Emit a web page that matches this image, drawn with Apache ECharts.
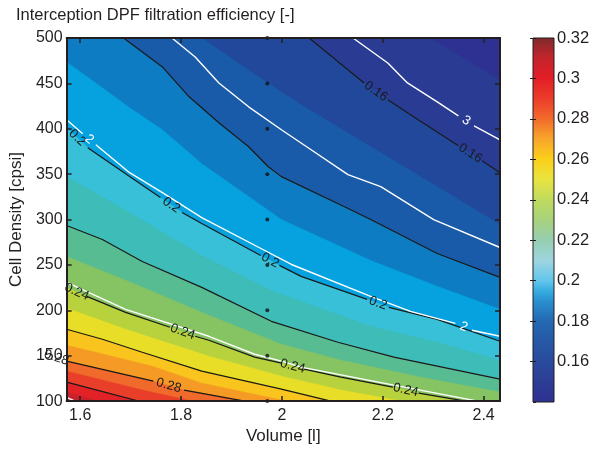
<!DOCTYPE html>
<html><head><meta charset="utf-8">
<script src="https://cdn.jsdelivr.net/npm/echarts@6/dist/echarts.min.js"></script>
<style>html,body{margin:0;padding:0;background:#fff}#c{width:593px;height:450px}</style>
</head><body><div id="c"></div>
<script>
// ---------- data ----------
const chartTitle = 'Interception DPF filtration efficiency [-]';
const xName = 'Volume [l]';
const yName = 'Cell Density [cpsi]';
const xRange = [1.573, 2.4325];
const yRange = [100, 500];
const yTickStep = 50;
const cbarRange = [0.14, 0.32];
const cbarStep = 0.02;

// measured design points
const sampleVolume = [1.971];
const sampleCellDensity = [100, 150, 200, 250, 300, 350, 400, 450, 500];

// iso-efficiency curves [volume, cell density]; null = gap under a contour label
const eff015 = [[2.295,500],[2.4325,453.8]];
const eff016 = [[2.054,500],[2.163,450.5],null,[2.210,431.9],[2.261,413.2],[2.350,381.3],null,[2.397,364.8],[2.4325,351.6]];
const eff017 = [[1.841,500],[1.940,462.6],[2.038,426.4],[2.137,393.4],[2.236,360.4],[2.334,327.5],[2.4325,294.5]];
const eff018 = [[1.686,500],[1.763,468.1],[1.816,435.2],[1.875,406.6],[1.934,380.2],[1.973,358.2],[1.999,347.3],[2.123,314.3],[2.176,300],[2.308,262.6],[2.4325,236.3]];
const eff019 = [[1.573,473.6],[1.644,445.1],[1.698,423.1],[1.763,398.9],[1.841,361.5],[1.999,300],[2.176,255.0],[2.308,226.4],[2.4325,201.1]];
const eff020 = [[1.573,401.1],null,[1.615,379.1],[1.698,347.3],[1.759,324.2],null,[1.802,307.7],[1.841,295.6],[1.958,260.4],null,[1.995,249.5],[2.038,237.4],[2.169,212.1],null,[2.212,203.3],[2.308,190.1],[2.4325,165.9]];
const eff021 = [[1.573,347.3],[1.698,307.7],[1.841,260.4],[1.979,221.9],[2.176,182.4],[2.308,164.8],[2.4325,145.1]];
const eff022 = [[1.573,293.4],[1.644,278.0],[1.723,253.8],[1.841,225.3],[1.979,187.9],[2.111,164.8],[2.222,148.4],[2.308,138.5],[2.4325,124.2]];
const eff023 = [[1.573,259.3],[1.690,233.0],[1.855,194.5],[1.999,162.6],[2.117,145.1],[2.275,126.4],[2.4325,109.9]];
const eff024 = [[1.573,225.3],null,[1.613,215.4],[1.690,197.8],[1.778,181.3],null,[1.828,171.4],[1.855,167.0],[1.946,148.4],[1.999,141.8],null,[2.044,135.2],[2.117,126.4],[2.220,115.4],null,[2.271,108.8],[2.364,100]];
const eff025 = [[1.573,202.2],[1.690,179.1],[1.855,149.5],[1.999,127.5],[2.117,112.1],[2.236,100]];
const eff026 = [[1.573,179.1],[1.644,168.1],[1.723,153.8],[1.841,133.0],[1.999,113.2],[2.097,100]];
const eff027 = [[1.573,161.5],[1.743,138.5],[1.841,119.8],[2.009,100]];
const eff028 = [[1.532,151.7],null,[1.573,144.0],[1.745,122.0],null,[1.806,112.1],[1.926,100]];
const eff029 = [[1.573,133.0],[1.723,112.1],[1.822,100]];
const eff030 = [[1.573,120.9],[1.723,99]];
const eff031 = [[1.573,110],[1.635,100]];

// second quantity (white iso-lines)
const white1 = [[1.573,230.8],[1.690,201.1],[1.855,171.4],[1.946,151.6],[1.999,144.0],[2.038,137.4],[2.222,117.6],[2.368,102.2],[2.389,100]];
const white2 = [[1.573,409.9],[1.605,394.5],null,[1.631,382.4],[1.698,351.6],[1.763,329.7],[1.841,302.2],[1.966,265.9],[2.019,250.5],[2.176,215.4],[2.255,198.9],[2.344,185.7],null,[2.377,178.0],[2.4325,171.4]];
const white25 = [[1.782,500],[1.828,479.1],[1.875,450.5],[1.934,424.2],[1.999,398.9],[2.052,379.1],[2.131,349.5],[2.196,336.3],[2.301,300],[2.4325,269.2]];
const white3 = [[2.141,500],[2.210,472.5],[2.249,450.5],[2.308,429.7],[2.350,414.3],null,[2.381,403.3],[2.4325,387.9]];
const whiteCorner = [[1.573,104],[1.590,100]];

// ---------- styling ----------
const FONT = '"Liberation Sans", Arial, Helvetica, sans-serif';
const INK = '#231f20';
const baseColor = '#2e3192';
const fillBands = [
  {pts: eff015, color: '#2a3b94'},
  {pts: eff016, color: '#22489c'},
  {pts: eff017, color: '#195aa9'},
  {pts: eff018, color: '#0d7cc2'},
  {pts: eff019, color: '#05a2df'},
  {pts: eff020, color: '#38c0d8'},
  {pts: eff021, color: '#3dbcb8'},
  {pts: eff022, color: '#58bc92'},
  {pts: eff023, color: '#86c362'},
  {pts: eff024, color: '#b8d23d'},
  {pts: eff025, color: '#e8de28'},
  {pts: eff026, color: '#f9c41e'},
  {pts: eff027, color: '#f59a24'},
  {pts: eff028, color: '#f06a2b'},
  {pts: eff029, color: '#e93e29'},
  {pts: eff030, color: '#e32227'},
  {pts: eff031, color: '#c9222a'}
];
const lineDefs = [
  {pts: eff016, color: '#1a1a1a', width: 1.2, label: '0.16'},
  {pts: eff018, color: '#1a1a1a', width: 1.2},
  {pts: eff020, color: '#1a1a1a', width: 1.2, label: '0.2'},
  {pts: eff022, color: '#1a1a1a', width: 1.2},
  {pts: eff024, color: '#1a1a1a', width: 1.2, label: '0.24'},
  {pts: eff026, color: '#1a1a1a', width: 1.2},
  {pts: eff028, color: '#1a1a1a', width: 1.2, label: '0.28'},
  {pts: eff030, color: '#1a1a1a', width: 1.2},
  {pts: white1, color: '#ffffff', width: 1.4},
  {pts: white2, color: '#ffffff', width: 1.4, label: '2'},
  {pts: white25, color: '#ffffff', width: 1.4},
  {pts: white3, color: '#ffffff', width: 1.4, label: '3'},
  {pts: whiteCorner, color: '#ffffff', width: 1.4}
];
const cbarStops = [
  [0.14,'#2e3192'],[0.15,'#2c3d94'],[0.16,'#2a4a9c'],[0.17,'#2658a6'],[0.18,'#2468b1'],
  [0.19,'#2a8fcf'],[0.195,'#36acE0'],[0.20,'#62c5ea'],[0.21,'#9dd5e0'],[0.22,'#96ceb2'],
  [0.23,'#a7d27c'],[0.24,'#bfdb5e'],[0.25,'#e8e440'],[0.26,'#fbd01b'],[0.27,'#f8a62b'],
  [0.28,'#f26a2c'],[0.29,'#ec3c2a'],[0.30,'#e31e26'],[0.31,'#c4242b'],[0.32,'#7e2a2c']
];

// labels at gaps
const labelItems = [];
lineDefs.forEach(d => {
  if (!d.label) return;
  d.pts.forEach((p, i) => {
    if (p === null) labelItems.push({p1: d.pts[i-1], p2: d.pts[i+1], text: d.label, color: d.color === '#ffffff' ? '#ffffff' : '#1a1a1a'});
  });
});

const chart = echarts.init(document.getElementById('c'), null, {renderer: 'canvas'});

const xLabelFmt = v => (Math.abs(v*5 - Math.round(v*5)) < 1e-6 ? String(+v.toFixed(1)) : '');

const series = [];
series.push({
  type: 'custom', xAxisIndex: 0, yAxisIndex: 0, clip: true, silent: true, z: 1,
  data: fillBands.map((b, i) => [xRange[0], yRange[0], i]),
  encode: {x: 0, y: 1},
  renderItem: (params, api) => {
    const b = fillBands[params.dataIndex];
    const pts = b.pts.filter(p => p).map(p => api.coord(p));
    pts.push(api.coord([xRange[1] + 0.3, yRange[0] - 200]));
    pts.push(api.coord([xRange[0] - 0.3, yRange[0] - 200]));
    pts.push(api.coord([xRange[0] - 0.3, yRange[1] + 200]));
    return {type: 'polygon', shape: {points: pts}, style: {fill: b.color, stroke: b.color, lineWidth: 0.5}};
  }
});
lineDefs.forEach(d => {
  series.push({
    type: 'line', xAxisIndex: 0, yAxisIndex: 0, z: 3, silent: true, clip: true,
    symbol: 'none', showSymbol: false, connectNulls: false,
    lineStyle: {color: d.color, width: d.width},
    data: d.pts.map(p => p ? p : ['-', '-'])
  });
});
series.push({
  type: 'custom', xAxisIndex: 0, yAxisIndex: 0, clip: false, silent: true, z: 4,
  data: labelItems.map(l => [l.p1[0], l.p1[1]]),
  encode: {x: 0, y: 1},
  renderItem: (params, api) => {
    const l = labelItems[params.dataIndex];
    const a = api.coord(l.p1), b = api.coord(l.p2);
    const ang = Math.atan2(b[1] - a[1], b[0] - a[0]);
    return {type: 'text', x: (a[0]+b[0])/2, y: (a[1]+b[1])/2, rotation: -ang,
      style: {text: l.text, fill: l.color, fontSize: 13, fontFamily: FONT, align: 'center', verticalAlign: 'middle'}};
  }
});
series.push({
  type: 'scatter', xAxisIndex: 0, yAxisIndex: 0, z: 6, clip: false, silent: true,
  symbolSize: 4, itemStyle: {color: '#111'},
  data: sampleCellDensity.map(y => [sampleVolume[0], y])
});
// colorbar
series.push({
  type: 'custom', xAxisIndex: 2, yAxisIndex: 2, clip: false, silent: true, z: 2,
  data: [[0, cbarRange[0]]], encode: {x: 0, y: 1},
  renderItem: (params, api) => {
    const p0 = api.coord([0, cbarRange[0]]), p1 = api.coord([1, cbarRange[1]]);
    const span = cbarRange[1] - cbarRange[0];
    const grad = new echarts.graphic.LinearGradient(0, 1, 0, 0,
      cbarStops.map(s => ({offset: (s[0] - cbarRange[0]) / span, color: s[1]})));
    return {type: 'rect', shape: {x: p0[0], y: p1[1], width: p1[0]-p0[0], height: p0[1]-p1[1]},
      style: {fill: grad, stroke: INK, lineWidth: 1}};
  }
});

const axLine = {show: true, lineStyle: {color: INK, width: 2}};
const tickIn = {show: true, inside: true, length: 5, lineStyle: {color: INK, width: 1.5}};

chart.setOption({
  animation: false,
  title: {text: chartTitle, left: 11, top: 2, textStyle: {fontSize: 16.5, fontWeight: 'normal', color: INK, fontFamily: FONT}},
  grid: [
    {left: 64, right: 93, top: 38, bottom: 48, show: true, backgroundColor: baseColor, borderWidth: 0},
    {left: 533, width: 21, top: 38, bottom: 48, show: false}
  ],
  xAxis: [
    {type: 'value', gridIndex: 0, position: 'bottom', min: xRange[0], max: xRange[1], z: 10,
     axisLine: axLine, axisTick: tickIn, splitLine: {show: false},
     axisLabel: {color: INK, fontSize: 16, fontFamily: FONT, margin: 6, showMinLabel: false, showMaxLabel: false, formatter: xLabelFmt},
     name: xName, nameLocation: 'middle', nameGap: 26, nameTextStyle: {color: INK, fontSize: 17, fontFamily: FONT}},
    {type: 'value', gridIndex: 0, position: 'top', min: xRange[0], max: xRange[1], z: 10,
     axisLine: axLine, axisTick: tickIn, splitLine: {show: false}, axisLabel: {show: false}},
    {type: 'value', gridIndex: 1, min: 0, max: 1, show: false}
  ],
  yAxis: [
    {type: 'value', gridIndex: 0, position: 'left', min: yRange[0], max: yRange[1], interval: yTickStep, z: 10,
     axisLine: axLine, axisTick: tickIn, splitLine: {show: false},
     axisLabel: {color: INK, fontSize: 16, fontFamily: FONT, margin: 4},
     name: yName, nameLocation: 'middle', nameGap: 35, nameTextStyle: {color: INK, fontSize: 17, fontFamily: FONT}},
    {type: 'value', gridIndex: 0, position: 'right', min: yRange[0], max: yRange[1], interval: yTickStep, z: 10,
     axisLine: axLine, axisTick: tickIn, splitLine: {show: false}, axisLabel: {show: false}},
    {type: 'value', gridIndex: 1, position: 'right', min: cbarRange[0], max: cbarRange[1], interval: cbarStep, z: 10,
     axisLine: {show: false}, axisTick: {show: true, inside: true, length: 3, lineStyle: {color: INK, width: 1}},
     splitLine: {show: false},
     axisLabel: {color: INK, fontSize: 16.5, fontFamily: FONT, margin: 3, showMinLabel: false}},
    {type: 'value', gridIndex: 1, position: 'left', min: cbarRange[0], max: cbarRange[1], interval: cbarStep, z: 10,
     axisLine: {show: false}, axisTick: {show: true, inside: true, length: 3, lineStyle: {color: INK, width: 1}},
     splitLine: {show: false}, axisLabel: {show: false}}
  ],
  series: series
});
</script>
</body></html>
